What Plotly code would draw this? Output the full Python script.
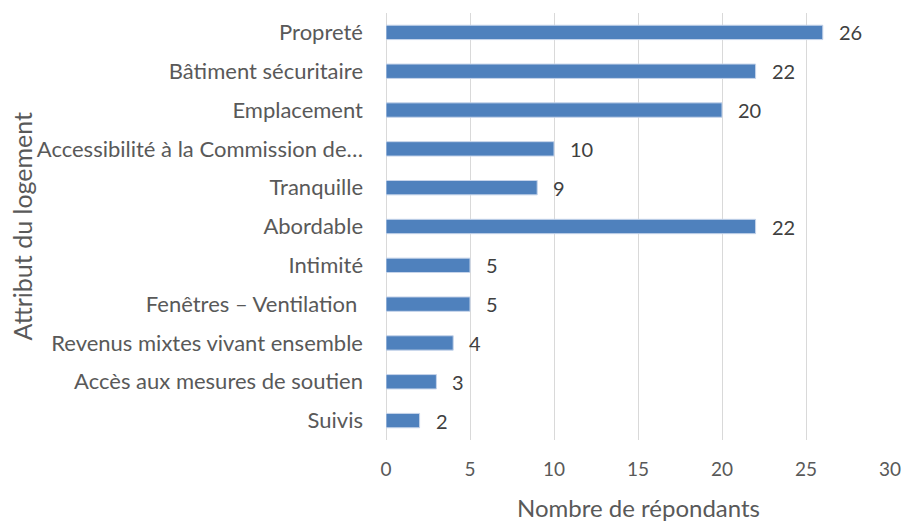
import plotly.graph_objects as go

categories = ["Propreté", "Bâtiment sécuritaire", "Emplacement",
              "Accessibilité à la Commission de…", "Tranquille", "Abordable",
              "Intimité", "Fenêtres – Ventilation ", "Revenus mixtes vivant ensemble",
              "Accès aux mesures de soutien", "Suivis"]
values = [26, 22, 20, 10, 9, 22, 5, 5, 4, 3, 2]
x_ticks = [0, 5, 10, 15, 20, 25, 30]

FONT = "Lato, 'Open Sans', sans-serif"
GREY = "#595959"

fig = go.Figure(go.Bar(
    x=values, y=categories, orientation="h",
    marker=dict(color="#4f81bd", line=dict(color="#c6d4ea", width=1)),
    hoverinfo="x+y",
))

for c, v in zip(categories, values):
    fig.add_annotation(x=v, y=c, xref="x", yref="y", text=str(v),
                       showarrow=False, xanchor="left", xshift=14,
                       font=dict(size=20, color="#404040", family=FONT))

fig.add_annotation(x=0.5, y=0, xref="paper", yref="paper", text="Nombre de répondants",
                   showarrow=False, xanchor="center", yanchor="middle", yshift=-67,
                   font=dict(size=24, color=GREY, family=FONT))
fig.add_annotation(x=0, y=0.5, xref="paper", yref="paper", text="Attribut du logement",
                   showarrow=False, xanchor="center", yanchor="middle", xshift=-365,
                   textangle=-90, font=dict(size=25, color=GREY, family=FONT))

fig.update_layout(
    width=903, height=523,
    margin=dict(l=386, r=13, t=13, b=83),
    paper_bgcolor="white", plot_bgcolor="white",
    bargap=0.63,
    showlegend=False,
    font=dict(family=FONT, color=GREY, size=17),
)
fig.update_xaxes(
    range=[0, 30], tickvals=x_ticks, showgrid=True, gridcolor="#d9d9d9",
    gridwidth=1, zeroline=True, zerolinecolor="#d9d9d9", zerolinewidth=1,
    showline=False, ticks="", tickfont=dict(size=19, color=GREY),
    ticklabelstandoff=16, automargin=False,
)
fig.update_yaxes(
    autorange="reversed", showgrid=False, ticks="", ticklabelstandoff=22,
    tickfont=dict(size=22, color=GREY), automargin=False,
)

fig.write_html(
    "out.html",
    config={"displayModeBar": False},
    post_script="document.body.style.margin='0';document.body.style.overflow='hidden';",
)
